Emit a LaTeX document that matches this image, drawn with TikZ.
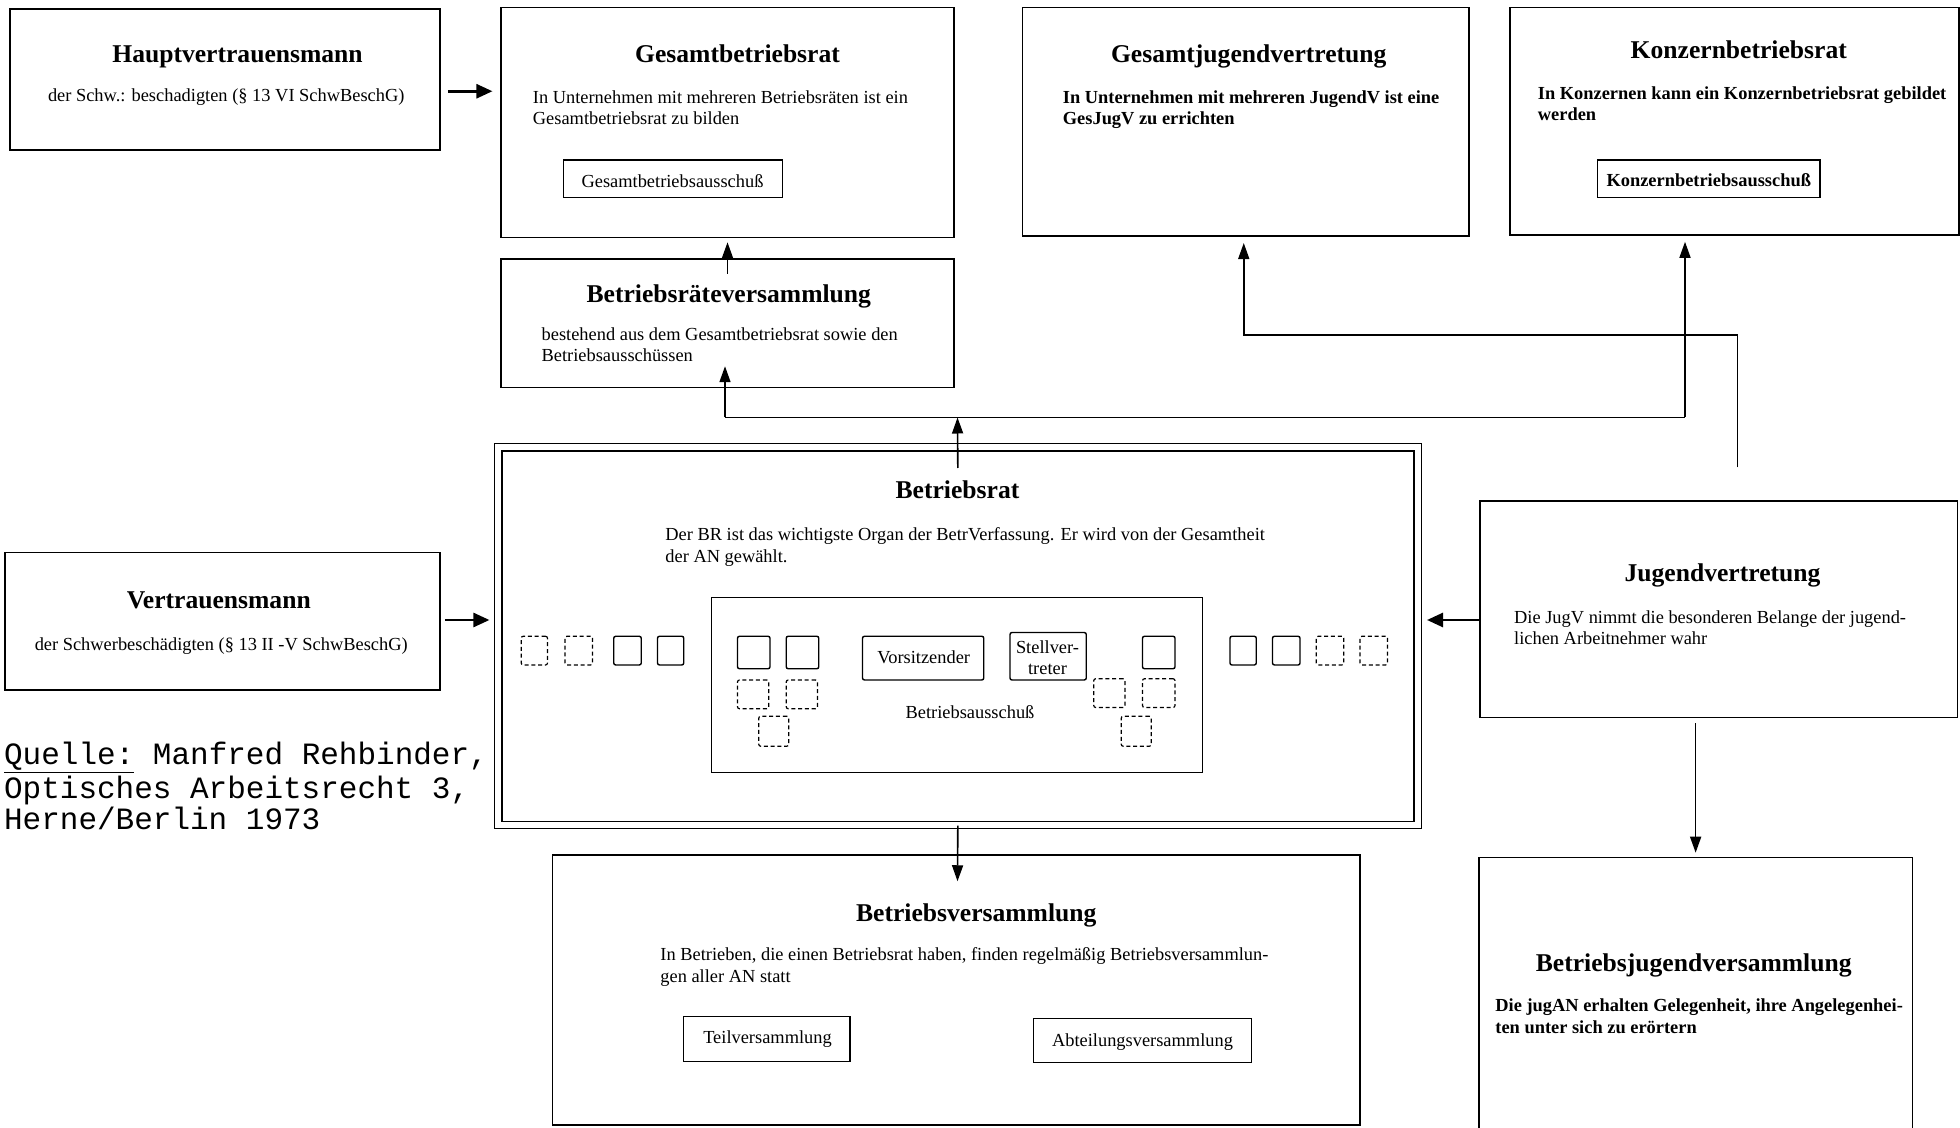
\documentclass[tikz,border=0pt]{standalone}
\usepackage{fontspec}
\setmainfont{Liberation Serif}
\newfontfamily\qmono{Liberation Mono}
\usetikzlibrary{arrows.meta,fit}
\tikzset{
  box/.style={draw, line width=0.8pt, inner sep=0pt},
  ibox/.style={draw, line width=0.7pt, inner sep=0pt},
  sq/.style={draw, line width=0.7pt, rounded corners=1pt, inner sep=0pt},
  dsq/.style={draw, line width=0.6pt, dash pattern=on 2pt off 1.4pt, rounded corners=1pt, inner sep=0pt},
  ttl/.style={font=\bfseries\fontsize{12.8}{14}\selectfont, inner sep=0pt, anchor=base},
  bdy/.style={font=\fontsize{9.2}{10.6}\selectfont, align=left, inner sep=0pt, anchor=north west},
  bbdy/.style={bdy, font=\bfseries\fontsize{9.2}{10.6}\selectfont},
  lbl/.style={font=\fontsize{9.2}{10.6}\selectfont, inner sep=0pt},
  blbl/.style={lbl, font=\bfseries\fontsize{9.2}{10.6}\selectfont},
  conn/.style={line width=0.8pt},
  arr/.style={conn, -{Triangle[length=8pt,width=5.5pt]}},
  arrh/.style={line width=1.3pt, -{Triangle[length=8pt,width=7pt]}},
}
\begin{document}
\begin{tikzpicture}[x=0.625pt, y=-0.625pt]
\useasboundingbox (0,0) rectangle (1568,902.4);
\fill[white] (0,0) rectangle (1568,902.4);
\clip (0,0) rectangle (1568,902.4);

% Hauptvertrauensmann
\node[box, fit={(8,7) (352,120)}] (hvm) {};
\node[ttl] (hvmT) at (190,50) {Hauptvertrauensmann};
\node[lbl, anchor=base] (hvmB) at (181,81) {der Schw.: beschadigten (§ 13 VI SchwBeschG)};

% Gesamtbetriebsrat
\node[box, fit={(401,6) (763,190)}] (gbr) {};
\node[ttl] (gbrT) at (590,50) {Gesamtbetriebsrat};
\node[bdy] (gbrB) at (426,72) {In Unternehmen mit mehreren Betriebsräten ist ein\\Gesamtbetriebsrat zu bilden};
\node[ibox, fit={(451,128) (626,158)}] (gba) {};
\node[lbl] (gbaT) at (538,145) {Gesamtbetriebsausschuß};

% Betriebsraeteversammlung
\node[box, fit={(401,207) (763,310)}] (brv) {};
\node[ttl] (brvT) at (583,242) {Betriebsräteversammlung};
\node[bdy] (brvB) at (433,262) {bestehend aus dem Gesamtbetriebsrat sowie den\\Betriebsausschüssen};

% Gesamtjugendvertretung
\node[box, fit={(818,6) (1175,189)}] (gjv) {};
\node[ttl] (gjvT) at (999,50) {Gesamtjugendvertretung};
\node[bbdy] (gjvB) at (850,72) {In Unternehmen mit mehreren JugendV ist eine\\GesJugV zu errichten};

% Konzernbetriebsrat
\node[box, fit={(1208,6) (1567,188)}] (kbr) {};
\node[ttl] (kbrT) at (1391,47) {Konzernbetriebsrat};
\node[bbdy] (kbrB) at (1230,69) {In Konzernen kann ein Konzernbetriebsrat gebildet\\werden};
\node[ibox, fit={(1278,128) (1456,158)}] (kba) {};
\node[blbl] (kbaT) at (1367,144) {Konzernbetriebsausschuß};

% Betriebsrat
\node[box, double, double distance=3pt, line width=0.7pt, fit={(398.5,358) (1134,660)}] (br) {};
\node[ttl] (brT) at (766,399) {Betriebsrat};
\node[bdy] (brB) at (532,422) {Der BR ist das wichtigste Organ der BetrVerfassung. Er wird von der Gesamtheit\\der AN gewählt.};
\node[ibox, fit={(569,478) (962,618)}] (ba) {};
\node[lbl] (baT) at (776,570) {Betriebsausschuß};
% outer members
\node[dsq, fit={(417,509) (438,532)}] (o1) {};
\node[dsq, fit={(452,509) (474,532)}] (o2) {};
\node[sq, fit={(491,509) (513,532)}] (o3) {};
\node[sq, fit={(526,509) (547,532)}] (o4) {};
\node[sq, fit={(984,509) (1005,532)}] (o5) {};
\node[sq, fit={(1018,509) (1040,532)}] (o6) {};
\node[dsq, fit={(1053,509) (1075,532)}] (o7) {};
\node[dsq, fit={(1088,509) (1110,532)}] (o8) {};
% committee members
\node[sq, fit={(590,509) (616,535)}] (i1) {};
\node[sq, fit={(629,509) (655,535)}] (i2) {};
\node[dsq, fit={(590,544) (615,567)}] (i3) {};
\node[dsq, fit={(629,544) (654,567)}] (i4) {};
\node[dsq, fit={(607,573) (631,597)}] (i5) {};
\node[sq, fit={(914,509) (940,535)}] (i6) {};
\node[dsq, fit={(875,543) (900,566)}] (i7) {};
\node[dsq, fit={(914,543) (940,566)}] (i8) {};
\node[dsq, fit={(897,573) (921,597)}] (i9) {};
\node[sq, fit={(690,509) (787,544)}] (vors) {};
\node[lbl] (vorsT) at (739,526) {Vorsitzender};
\node[sq, fit={(808,506) (869,544)}] (stv) {};
\node[lbl, align=center] (stvT) at (838,526) {Stellver-\\treter};

% Vertrauensmann
\node[box, fit={(4,442) (352,552)}] (vm) {};
\node[ttl] (vmT) at (175,487) {Vertrauensmann};
\node[lbl, anchor=base] (vmB) at (177,520) {der Schwerbeschädigten (§ 13 II -V SchwBeschG)};

% Jugendvertretung
\node[box, fit={(1184,401) (1566,574)}] (jv) {};
\node[ttl] (jvT) at (1378,465) {Jugendvertretung};
\node[bdy] (jvB) at (1211,488) {Die JugV nimmt die besonderen Belange der jugend-\\lichen Arbeitnehmer wahr};

% Betriebsversammlung
\node[box, fit={(442,684) (1088,900)}] (bv) {};
\node[ttl] (bvT) at (781,737) {Betriebsversammlung};
\node[bdy] (bvB) at (528,758) {In Betrieben, die einen Betriebsrat haben, finden regelmäßig Betriebsversammlun-\\gen aller AN statt};
\node[ibox, fit={(547,813) (680,849)}] (tv) {};
\node[lbl, anchor=base] (tvT) at (614,835) {Teilversammlung};
\node[ibox, fit={(827,815) (1001,850)}] (av) {};
\node[lbl, anchor=base] (avT) at (914,837) {Abteilungsversammlung};

% Betriebsjugendversammlung
\node[box, fit={(1183,686) (1530,915)}] (bjv) {};
\node[ttl] (bjvT) at (1355,777) {Betriebsjugendversammlung};
\node[bbdy] (bjvB) at (1196,799) {Die jugAN erhalten Gelegenheit, ihre Angelegenhei-\\ten unter sich zu erörtern};

% source
\node[font=\qmono\fontsize{15.5}{15.6}\selectfont, align=left, anchor=north west, inner sep=0pt] (src) at (3,593) {\underline{Quelle:} Manfred Rehbinder,\\Optisches Arbeitsrecht 3,\\Herne/Berlin 1973};

% connectors
\coordinate (yA) at (0,73);
\coordinate (yB) at (0,496);
\coordinate (j1) at (766,334);
\coordinate (jL) at (580,334);
\coordinate (jR) at (1348,334);
\coordinate (brvIn) at (580,293);
\coordinate (r1) at (1390,268);
\coordinate (r2) at (995,268);
\coordinate (jvTop) at (1390,374);
\coordinate (bvIn) at (766,705);

\draw[arrh, shorten <=3.5pt, shorten >=4pt] (hvm.east |- yA) -- (gbr.west |- yA);
\draw[arrh, shorten <=2pt, shorten >=4pt] (vm.east |- yB) -- (br.west |- yB);
\draw[arrh, shorten >=4.4pt] (jv.west |- yB) -- (br.east |- yB);
\draw[arr, shorten >=2pt] ([yshift=-8pt]brv.north) -- (gbr.south);
\draw[arr] ([yshift=-10.6pt]br.north) -- (j1);
\draw[conn] (jL) -- (jR);
\draw[arr] (jL) -- (brvIn);
\draw[arr, shorten >=3pt] (jR) -- (kbr.south -| jR);
\draw[arr, shorten >=3pt] (jvTop) -- (r1) -- (r2) -- (gjv.south -| r2);
\draw[arr, shorten <=2.5pt, shorten >=2pt] (jv.south -| bjv.north) -- (bjv.north);
\draw[arr] (br.south) -- (bvIn);
\end{tikzpicture}
\end{document}
